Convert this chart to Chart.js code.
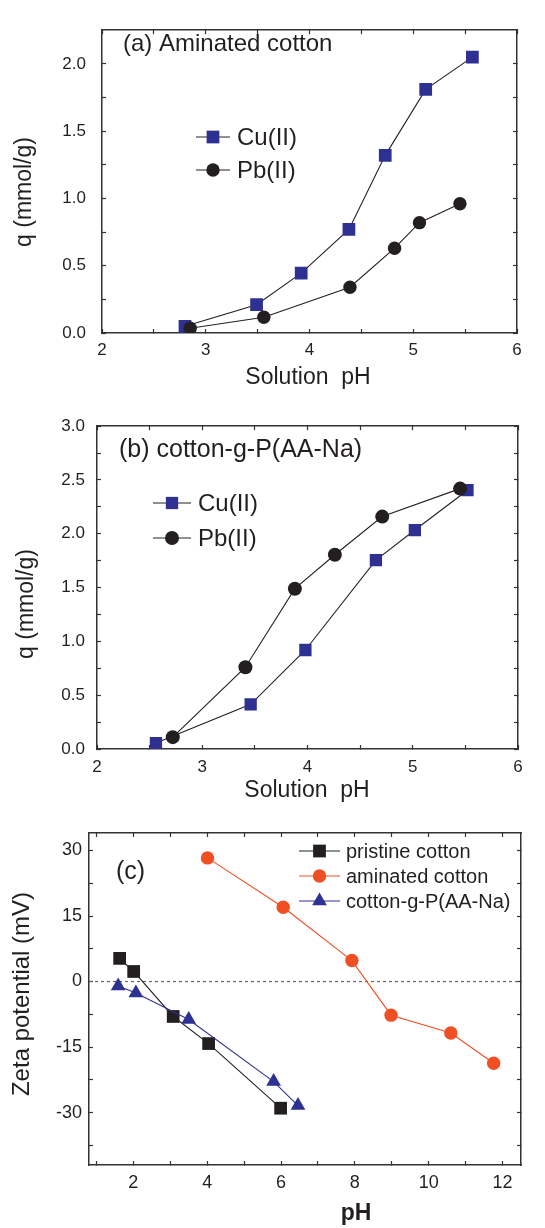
<!DOCTYPE html>
<html>
<head>
<meta charset="utf-8">
<script src="https://cdn.jsdelivr.net/npm/chart.js@4/dist/chart.umd.min.js"></script>
<style>
  html, body { margin: 0; padding: 0; background: #fff; }
  #wrap { position: relative; width: 545px; height: 1228px; }
  canvas { position: absolute; left: 0; }
</style>
</head>
<body>
<div id="wrap">
  <canvas id="chartA" width="545" height="400" style="top:0px"></canvas>
  <canvas id="chartB" width="545" height="405" style="top:400px"></canvas>
  <canvas id="chartC" width="545" height="423" style="top:805px"></canvas>
</div>
<script>
// (a) aminated cotton
const aCuX = [2.80, 3.49, 3.92, 4.38, 4.73, 5.12, 5.57];
const aCuY = [0.05, 0.21, 0.445, 0.77, 1.32, 1.81, 2.05];
const aPbX = [2.85, 3.56, 4.39, 4.82, 5.06, 5.45];
const aPbY = [0.035, 0.117, 0.34, 0.63, 0.82, 0.96];

// (b) cotton-g-P(AA-Na)
const bCuX = [2.56, 3.46, 3.98, 4.65, 5.02, 5.52];
const bCuY = [0.055, 0.415, 0.92, 1.755, 2.035, 2.405];
const bPbX = [2.72, 3.41, 3.88, 4.26, 4.71, 5.45];
const bPbY = [0.11, 0.76, 1.49, 1.805, 2.16, 2.42];

// (c) zeta potential
const cPristineX = [1.63, 2.01, 3.08, 4.04, 5.99];
const cPristineY = [5.3, 2.3, -8.0, -14.2, -29.0];
const cAminatedX = [4.01, 6.06, 7.92, 8.98, 10.6, 11.76];
const cAminatedY = [28.3, 17.0, 4.8, -7.7, -11.8, -18.7];
const cGraftX = [1.59, 2.07, 3.50, 5.80, 6.46];
const cGraftY = [-1.0, -2.6, -8.7, -22.9, -28.4];
const cZeroX = [0.8, 12.5];
const cZeroY = [0, 0];

// ticks (labelled ones get a label, the rest are minor)
const abXTicks = [2, 2.5, 3, 3.5, 4, 4.5, 5, 5.5, 6];
const aYTicks = [0, 0.25, 0.5, 0.75, 1, 1.25, 1.5, 1.75, 2];
const bYTicks = [0, 0.25, 0.5, 0.75, 1, 1.25, 1.5, 1.75, 2, 2.25, 2.5, 2.75, 3];
const cXTicks = [1, 2, 3, 4, 5, 6, 7, 8, 9, 10, 11, 12];
const cYTicks = [-37.5, -30, -22.5, -15, -7.5, 0, 7.5, 15, 22.5, 30];

const FONT = '"Liberation Sans", Arial, Helvetica, sans-serif';
const ink = '#231f20';
const blue = '#2e3192';
const orange = '#f04e23';

const pts = (xs, ys) => xs.map((x, i) => ({x: x, y: ys[i]}));
const isMult = (v, m) => Math.abs(v / m - Math.round(v / m)) < 1e-6;

function makeScale(o) {
  return {
    type: 'linear',
    position: o.pos,
    min: o.min,
    max: o.max,
    border: {display: true, color: '#333', width: 1.5},
    grid: {drawOnChartArea: false, drawTicks: true, tickLength: -4, tickColor: '#333', tickWidth: 1.2},
    ticks: {
      display: !!o.fmt,
      autoSkip: false,
      includeBounds: false,
      padding: o.pad || 0,
      color: ink,
      font: {family: FONT, size: o.fs || 17},
      callback: o.fmt || (() => '')
    },
    afterBuildTicks: s => { s.ticks = o.vals.map(v => ({value: v})); },
    afterFit: s => {
      if (o.w != null) s.width = o.w;
      if (o.h != null) s.height = o.h;
    }
  };
}

function marker(ctx, style, x, y, r, color) {
  ctx.fillStyle = color;
  ctx.beginPath();
  if (style === 'rect') {
    const s = Math.SQRT1_2 * r;
    ctx.rect(x - s, y - s, 2 * s, 2 * s);
  } else if (style === 'triangle') {
    for (let i = 0; i < 3; i++) {
      const a = i * 2 * Math.PI / 3;
      const px = x + Math.sin(a) * r, py = y - Math.cos(a) * r;
      if (i) ctx.lineTo(px, py); else ctx.moveTo(px, py);
    }
    ctx.closePath();
  } else {
    ctx.arc(x, y, r, 0, 2 * Math.PI);
  }
  ctx.fill();
}

// free text + legend drawn inside the plot
const overlay = {
  id: 'overlay',
  afterDraw(chart, args, opts) {
    const ctx = chart.ctx;
    ctx.save();
    (opts.texts || []).forEach(t => {
      ctx.save();
      ctx.translate(t.x, t.y);
      if (t.rot) ctx.rotate(t.rot);
      ctx.font = t.font;
      ctx.fillStyle = ink;
      ctx.textAlign = t.align || 'left';
      ctx.textBaseline = 'middle';
      ctx.fillText(t.text, 0, 0);
      ctx.restore();
    });
    const lg = opts.legend;
    if (lg) {
      lg.rows.forEach((idx, k) => {
        const ds = chart.data.datasets[idx];
        const y = lg.y + k * lg.dy;
        ctx.strokeStyle = ds.borderColor;
        ctx.lineWidth = 1;
        ctx.beginPath();
        ctx.moveTo(lg.x, y);
        ctx.lineTo(lg.x + lg.len, y);
        ctx.stroke();
        marker(ctx, ds.pointStyle, lg.x + lg.len / 2, y, ds.pointRadius, ds.pointBackgroundColor);
        ctx.font = lg.font;
        ctx.fillStyle = ink;
        ctx.textAlign = 'left';
        ctx.textBaseline = 'middle';
        ctx.fillText(ds.label, lg.tx, y + 1);
      });
    }
    ctx.restore();
  }
};

function series(label, xs, ys, style, r, fill, line, order) {
  return {
    label: label,
    data: pts(xs, ys),
    showLine: true,
    borderColor: line,
    borderWidth: 1.1,
    pointStyle: style,
    pointRadius: r,
    pointHoverRadius: r,
    pointBackgroundColor: fill,
    pointBorderColor: fill,
    pointBorderWidth: 0,
    order: order
  };
}

const base = {
  responsive: false,
  animation: false,
  devicePixelRatio: 1,
  layout: {padding: 0},
  plugins: {legend: {display: false}, tooltip: {enabled: false}}
};

const fmt1 = v => isMult(v, 0.5) ? v.toFixed(1) : '';
const fmtInt = v => isMult(v, 1) ? String(v) : '';

// (a)
new Chart(document.getElementById('chartA'), {
  type: 'scatter',
  data: {datasets: [
    series('Cu(II)', aCuX, aCuY, 'rect', 9, blue, '#222', 2),
    series('Pb(II)', aPbX, aPbY, 'circle', 6.7, ink, '#222', 1)
  ]},
  plugins: [overlay],
  options: Object.assign({}, base, {
    scales: {
      x: makeScale({pos: 'bottom', min: 2, max: 6, vals: abXTicks, fmt: fmtInt, pad: 11, h: 67}),
      y: makeScale({pos: 'left', min: 0, max: 2.25, vals: aYTicks, fmt: fmt1, pad: 20, w: 102}),
      x2: makeScale({pos: 'top', min: 2, max: 6, vals: abXTicks, h: 12}),
      y2: makeScale({pos: 'right', min: 0, max: 2.25, vals: aYTicks, w: 28})
    },
    plugins: Object.assign({}, base.plugins, {
      overlay: {
        texts: [
          {text: '(a) Aminated cotton', x: 123, y: 44, font: '24px ' + FONT},
          {text: 'q (mmol/g)', x: 25, y: 192, rot: -Math.PI / 2, align: 'center', font: '23px ' + FONT},
          {text: 'Solution  pH', x: 308, y: 378, align: 'center', font: '23px ' + FONT}
        ],
        legend: {rows: [0, 1], x: 196, len: 34, y: 137, dy: 33, tx: 237, font: '24px ' + FONT}
      }
    })
  })
});

// (b)
new Chart(document.getElementById('chartB'), {
  type: 'scatter',
  data: {datasets: [
    series('Cu(II)', bCuX, bCuY, 'rect', 8.7, blue, '#222', 2),
    series('Pb(II)', bPbX, bPbY, 'circle', 7, ink, '#222', 1)
  ]},
  plugins: [overlay],
  options: Object.assign({}, base, {
    scales: {
      x: makeScale({pos: 'bottom', min: 2, max: 6, vals: abXTicks, fmt: fmtInt, pad: 12, h: 56}),
      y: makeScale({pos: 'left', min: 0, max: 3, vals: bYTicks, fmt: fmt1, pad: 16, w: 97}),
      x2: makeScale({pos: 'top', min: 2, max: 6, vals: abXTicks, h: 18}),
      y2: makeScale({pos: 'right', min: 0, max: 3, vals: bYTicks, w: 27})
    },
    plugins: Object.assign({}, base.plugins, {
      overlay: {
        texts: [
          {text: '(b) cotton-g-P(AA-Na)', x: 119, y: 50, font: '25px ' + FONT},
          {text: 'q (mmol/g)', x: 27, y: 204, rot: -Math.PI / 2, align: 'center', font: '23px ' + FONT},
          {text: 'Solution  pH', x: 307, y: 391, align: 'center', font: '23px ' + FONT}
        ],
        legend: {rows: [0, 1], x: 153, len: 38, y: 103, dy: 35, tx: 198, font: '24px ' + FONT}
      }
    })
  })
});

// (c)
const zeroLine = {
  label: 'zero',
  data: pts(cZeroX, cZeroY),
  showLine: true,
  borderColor: '#666',
  borderWidth: 1.2,
  borderDash: [3, 3],
  pointRadius: 0,
  order: 5
};
new Chart(document.getElementById('chartC'), {
  type: 'scatter',
  data: {datasets: [
    series('pristine cotton', cPristineX, cPristineY, 'rect', 9, ink, '#222', 2),
    series('aminated cotton', cAminatedX, cAminatedY, 'circle', 6.7, orange, orange, 1),
    series('cotton-g-P(AA-Na)', cGraftX, cGraftY, 'triangle', 8.5, blue, blue, 1),
    zeroLine
  ]},
  plugins: [overlay],
  options: Object.assign({}, base, {
    scales: {
      x: makeScale({pos: 'bottom', min: 0.8, max: 12.5, vals: cXTicks, fmt: v => isMult(v, 2) ? String(v) : '', pad: 11, h: 63, fs: 18}),
      y: makeScale({pos: 'left', min: -42, max: 34, vals: cYTicks, fmt: v => isMult(v, 15) ? String(v) : '', pad: 11, w: 89, fs: 18}),
      x2: makeScale({pos: 'top', min: 0.8, max: 12.5, vals: cXTicks, h: 28}),
      y2: makeScale({pos: 'right', min: -42, max: 34, vals: cYTicks, w: 24})
    },
    plugins: Object.assign({}, base.plugins, {
      overlay: {
        texts: [
          {text: '(c)', x: 116, y: 67, font: '25px ' + FONT},
          {text: 'Zeta potential (mV)', x: 22, y: 189, rot: -Math.PI / 2, align: 'center', font: '24px ' + FONT},
          {text: 'pH', x: 356, y: 409, align: 'center', font: 'bold 23px ' + FONT}
        ],
        legend: {rows: [0, 1, 2], x: 299, len: 41, y: 46, dy: 25, tx: 346, font: '20px ' + FONT}
      }
    })
  })
});
</script>
</body>
</html>
